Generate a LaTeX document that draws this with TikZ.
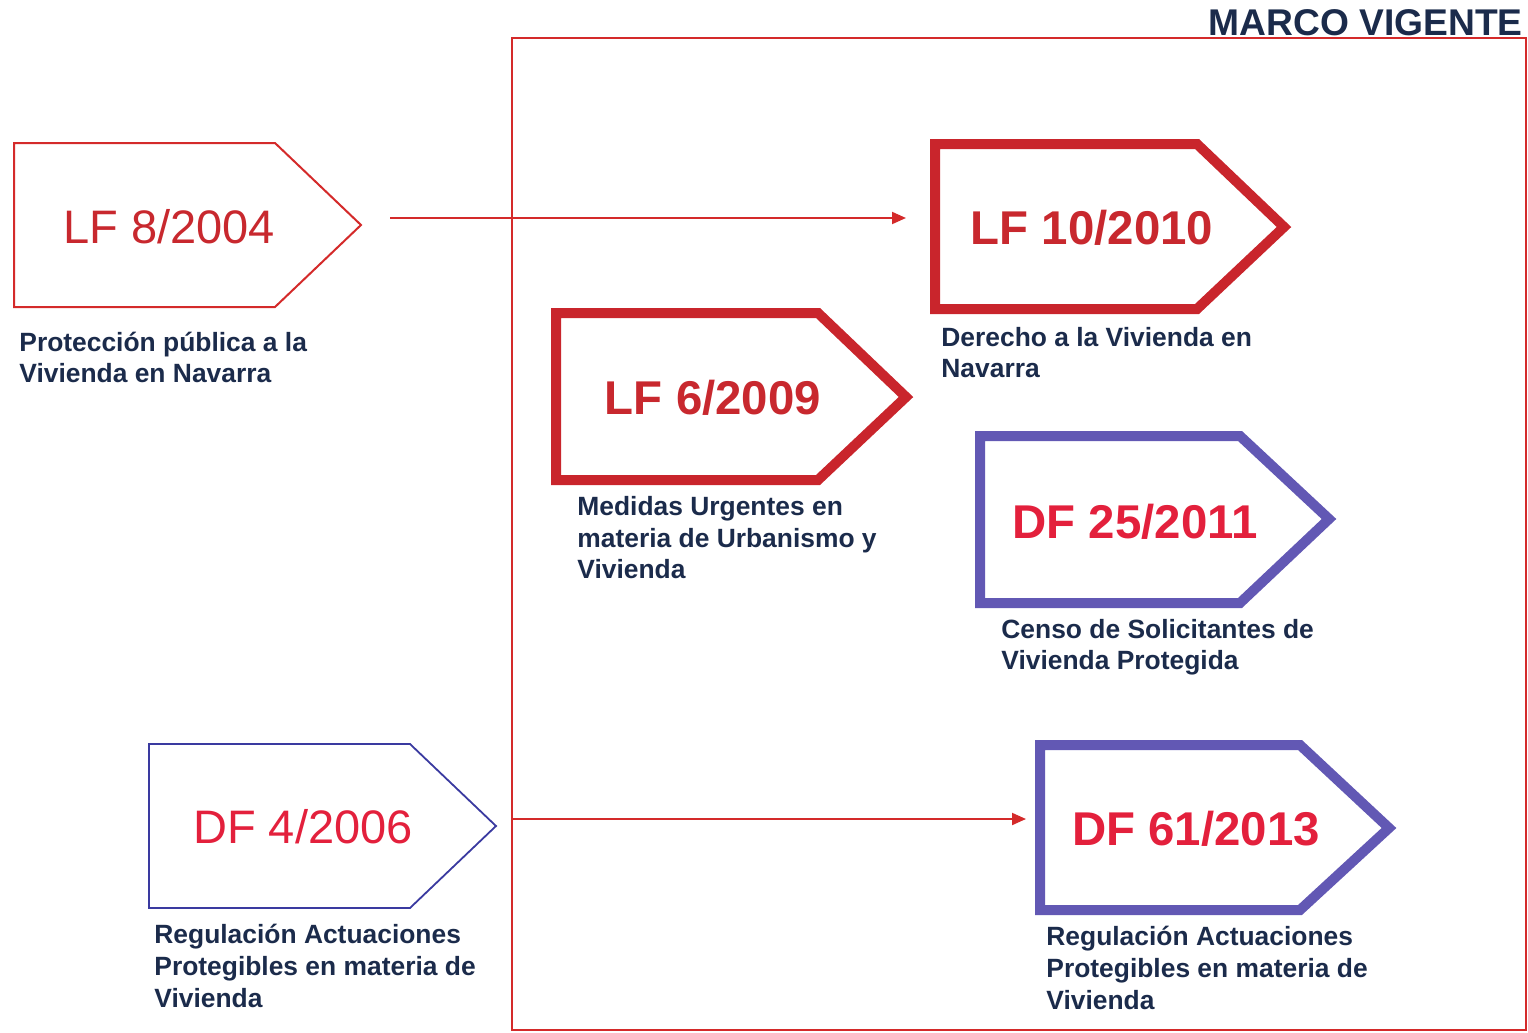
\documentclass[tikz,border=0pt]{standalone}
\usepackage{fontspec}
\setmainfont{Liberation Sans}
\usetikzlibrary{arrows.meta}
\definecolor{framered}{HTML}{D42A2A}
\definecolor{thickred}{HTML}{C9252C}
\definecolor{thickblue}{HTML}{6258B4}
\definecolor{thinblue}{HTML}{3A3AA0}
\definecolor{lfred}{HTML}{C8282E}
\definecolor{dfred}{HTML}{E3203C}
\definecolor{navy}{HTML}{1B2B4B}
\tikzset{
  thinred/.style={draw=framered, line width=1pt, line join=miter},
  thinblu/.style={draw=thinblue, line width=0.9pt, line join=miter},
  fatred/.style={draw=thickred, line width=5pt, line join=miter, miter limit=10},
  fatblue/.style={draw=thickblue, line width=5pt, line join=miter, miter limit=10},
  bigreg/.style={anchor=base, inner sep=0pt, font=\fontsize{23.5pt}{28pt}\selectfont},
  bigbold/.style={anchor=base, inner sep=0pt, font=\fontsize{23.7pt}{28pt}\selectfont\bfseries},
  lbl/.style={anchor=base west, inner sep=0pt, text=navy, font=\fontsize{13.2pt}{16pt}\selectfont\bfseries},
  conn/.style={draw=framered, line width=1pt, -{Triangle[length=7pt,width=6pt]}}
}
\begin{document}
\begin{tikzpicture}[x=0.5pt, y=-0.5pt]
\useasboundingbox (0,0) rectangle (1528,1033);

% frame and title
\draw[thinred] (512,38) rectangle (1526,1030);
\node[anchor=base east, inner sep=0pt, text=navy, font=\fontsize{18.6pt}{22pt}\selectfont\bfseries] (title) at (1523,35) {MARCO VIGENTE};

% LF 8/2004
\draw[thinred] (14,143) -- (275,143) -- (361,225) -- (275,307) -- (14,307) -- cycle;
\coordinate (lf8tip) at (361,225);
\node[bigreg, text=lfred] (lf8) at (169,243) {LF 8/2004};
\node[lbl] (lf8a) at (19,351) {Protección pública a la};
\node[lbl] (lf8b) at (19,382) {Vivienda en Navarra};

% LF 10/2010
\draw[fatred] (935,144) -- (1197,144) -- (1284,227) -- (1197,309) -- (935,309) -- cycle;
\node[bigbold, text=lfred] (lf10) at (1092,244) {LF 10/2010};
\node[lbl] (lf10a) at (941,346) {Derecho a la Vivienda en};
\node[lbl] (lf10b) at (941,377) {Navarra};

% LF 6/2009
\draw[fatred] (556,313) -- (818,313) -- (906,397) -- (818,480) -- (556,480) -- cycle;
\node[bigbold, text=lfred] (lf6) at (713,414) {LF 6/2009};
\node[lbl] (lf6a) at (577,515) {Medidas Urgentes en};
\node[lbl] (lf6b) at (577,547) {materia de Urbanismo y};
\node[lbl] (lf6c) at (577,578) {Vivienda};

% DF 25/2011
\draw[fatblue] (980,436) -- (1240,436) -- (1329,519) -- (1240,603) -- (980,603) -- cycle;
\node[bigbold, text=dfred] (df25) at (1135,538) {DF 25/2011};
\node[lbl] (df25a) at (1001,638) {Censo de Solicitantes de};
\node[lbl] (df25b) at (1001,669) {Vivienda Protegida};

% DF 4/2006
\draw[thinblu] (149,744) -- (410,744) -- (496,826) -- (410,908) -- (149,908) -- cycle;
\node[bigreg, text=dfred] (df4) at (303,843) {DF 4/2006};
\node[lbl] (df4a) at (154,943) {Regulación Actuaciones};
\node[lbl] (df4b) at (154,975) {Protegibles en materia de};
\node[lbl] (df4c) at (154,1007) {Vivienda};

% DF 61/2013
\draw[fatblue] (1040,745) -- (1300,745) -- (1389,828) -- (1300,910) -- (1040,910) -- cycle;
\node[bigbold, text=dfred] (df61) at (1196,845) {DF 61/2013};
\node[lbl] (df61a) at (1046,945) {Regulación Actuaciones};
\node[lbl] (df61b) at (1046,977) {Protegibles en materia de};
\node[lbl] (df61c) at (1046,1009) {Vivienda};

% connectors
\coordinate (c1s) at (390,218);
\coordinate (c1e) at (906,218);
\coordinate (c2s) at (512,819);
\coordinate (c2e) at (1026,819);
\draw[conn] (c1s) -- (c1e);
\draw[conn] (c2s) -- (c2e);
\end{tikzpicture}
\end{document}
